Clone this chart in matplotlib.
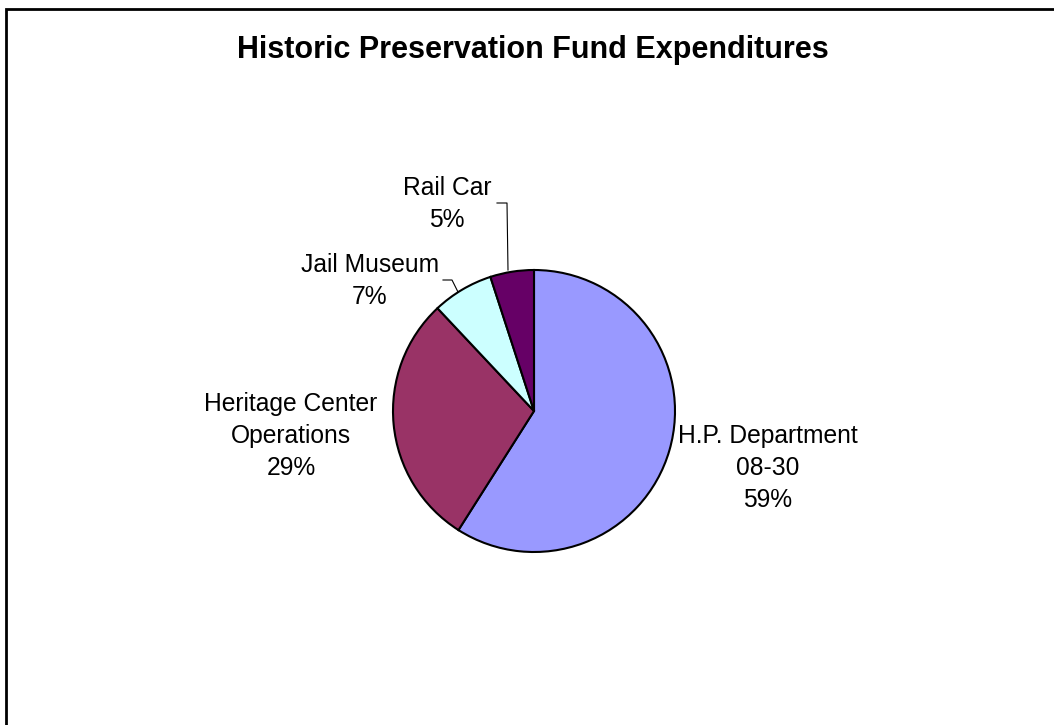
import matplotlib
matplotlib.use('Agg')
import matplotlib.pyplot as plt
from matplotlib.patches import Rectangle

plt.rcParams['font.family'] = ['Liberation Sans', 'DejaVu Sans']

W, H = 1054, 725

labels = ['H.P. Department\n08-30', 'Heritage Center\nOperations', 'Jail Museum', 'Rail Car']
shares = [59, 29, 7, 5]
colors = ['#9999FF', '#993366', '#CCFFFF', '#660066']

# label anchors: centre x and first baseline, in pixels from the top-left
label_pos = [(768, 443), (291, 411), (370, 272), (447, 195)]
LINE_STEP = 32

fig = plt.figure(figsize=(W / 100, H / 100), dpi=100)
ax = fig.add_axes([0, 0, 1, 1])

ax.pie(shares, colors=colors, startangle=90, counterclock=False,
       center=(534, H - 411), radius=141,
       wedgeprops=dict(edgecolor='black', linewidth=1.5))

# pie() rescales the axes, so pin them to pixel units afterwards
ax.set_xlim(0, W)
ax.set_ylim(0, H)
ax.set_aspect('equal')
ax.axis('off')

# chart frame, only left and top edges are inside the canvas
fig.patches.append(Rectangle((6 / W, -0.1), 1.2, (H - 9) / H + 0.1,
                             transform=fig.transFigure, fill=False,
                             edgecolor='black', linewidth=2))

ax.text(532.5, H - 58, 'Historic Preservation Fund Expenditures',
        ha='center', va='baseline', fontsize=22, fontweight='bold')

for lab, val, (px, py) in zip(labels, shares, label_pos):
    lines = f'{lab}\n{val}%'.split('\n')
    for i, line in enumerate(lines):
        ax.text(px, H - (py + i * LINE_STEP), line, ha='center', va='baseline',
                fontsize=17.7)

# leader lines for the two small slices
ax.plot([497, 507, 508], [H - 203, H - 203, H - 270], color='black', lw=0.8)
ax.plot([443, 452, 458], [H - 280, H - 280, H - 292], color='black', lw=0.8)

fig.savefig('out.png', dpi=100, facecolor='white')
